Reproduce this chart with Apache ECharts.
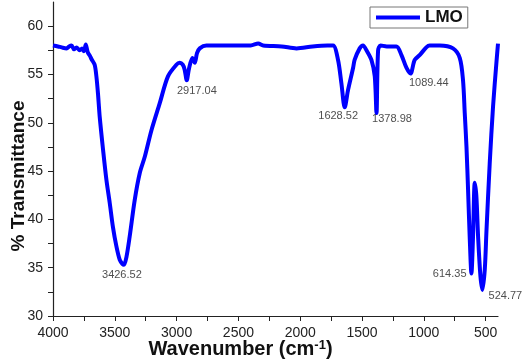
<!DOCTYPE html>
<html>
<head>
<meta charset="utf-8">
<script src="https://cdn.jsdelivr.net/npm/echarts@6/dist/echarts.min.js"></script>
<style>
  html, body { margin: 0; padding: 0; background: #fff; }
  #chart { width: 526px; height: 363px; }
</style>
</head>
<body>
<div id="chart"></div>
<script>
/* FTIR spectrum of LMO */
const wavenumbers = [
  4000, 3960, 3930, 3890, 3870, 3850, 3830, 3810, 3784, 3765, 3750, 3735, 3719, 3700,
  3689, 3663, 3649, 3636, 3622, 3595, 3568, 3541, 3515, 3487, 3460, 3439, 3426, 3406,
  3380, 3339, 3298, 3257, 3204, 3137, 3070, 3002, 2975, 2950, 2935, 2918, 2900, 2872,
  2853, 2835, 2813, 2759, 2600, 2400, 2340, 2300, 2150, 2030, 1900, 1780, 1734, 1694,
  1667, 1640, 1613, 1572, 1560, 1519, 1492, 1464, 1424, 1397, 1383, 1370, 1350, 1300,
  1222, 1181, 1141, 1108, 1074, 1034, 980, 953, 871, 764, 709, 683, 669, 655, 642, 629,
  615, 602, 588, 575, 561, 542, 526, 507, 493, 467, 440, 413, 400
];
const transmittance = [
  58.0, 57.9, 57.8, 57.7, 57.9, 58.0, 57.6, 57.8, 57.5, 57.7, 57.4, 58.1, 57.3, 56.9,
  56.6, 56.0, 54.8, 53.0, 50.6, 47.2, 44.1, 41.7, 39.2, 37.2, 35.8, 35.4, 35.3, 36.1,
  38.2, 42.0, 44.8, 46.5, 49.2, 52.0, 54.8, 56.0, 56.2, 56.0, 55.5, 54.4, 55.6, 56.7,
  56.2, 57.2, 57.7, 58.0, 58.0, 58.0, 58.2, 58.0, 57.9, 57.7, 57.9, 58.0, 58.0, 56.5,
  54.1, 51.6, 53.4, 55.7, 56.5, 57.7, 58.0, 57.5, 56.5, 54.8, 51.0, 57.5, 58.0, 57.9,
  57.9, 57.0, 55.7, 55.1, 56.5, 57.0, 57.8, 58.0, 58.0, 57.7, 56.7, 54.4, 51.0, 47.5, 43.0, 38.2,
  34.4, 38.2, 43.8, 42.4, 38.2, 34.1, 32.7, 34.8, 38.9, 45.8, 51.7, 56.2, 58.2
];
const peakWavenumbers = [3426.52, 2917.04, 1628.52, 1378.98, 1089.44, 614.35, 524.77];
const peakValues = [35.3, 54.4, 51.6, 51.0, 55.1, 34.4, 32.7];
const peakLabels = ['3426.52', '2917.04', '1628.52', '1378.98', '1089.44', '614.35', '524.77'];
const xTickValues = [4000, 3750, 3500, 3250, 3000, 2750, 2500, 2250, 2000, 1750, 1500, 1250, 1000, 750, 500];
const xLabelValues = [4000, 3500, 3000, 2500, 2000, 1500, 1000, 500];
const yTickValues = [30, 32.5, 35, 37.5, 40, 42.5, 45, 47.5, 50, 52.5, 55, 57.5, 60];
const yLabelValues = [30, 35, 40, 45, 50, 55, 60];

/* label placement for each peak: [position, offset] */
const peakLabelPlace = [
  ['bottom', [-2, 2]],
  ['bottom', [10, 2]],
  ['bottom', [-8, 0]],
  ['bottom', [15, -3]],
  ['bottom', [16, 1]],
  ['left', [-2, 0]],
  ['right', [3, 6]]
];

const FONT = '"Liberation Sans", Arial, sans-serif';
const spectrum = wavenumbers.map((w, i) => [w, transmittance[i]]);
const peaks = peakWavenumbers.map((w, i) => ({
  value: [w, peakValues[i]],
  name: peakLabels[i],
  label: { position: peakLabelPlace[i][0], offset: peakLabelPlace[i][1] }
}));

const chart = echarts.init(document.getElementById('chart'));
chart.setOption({
  animation: false,
  grid: { left: 53, right: 28, top: 2, bottom: 47, outerBoundsMode: 'none', containLabel: false },
  legend: {
    data: [{ name: 'LMO', icon: 'rect' }],
    left: 370,
    top: 7,
    padding: [2, 5, 2, 6],
    borderColor: '#777',
    borderWidth: 1,
    itemWidth: 44,
    itemHeight: 4,
    itemGap: 4,
    textStyle: { fontFamily: FONT, fontWeight: 'bold', fontSize: 17, color: '#111' }
  },
  xAxis: {
    type: 'value',
    inverse: true,
    min: 400,
    max: 4000,
    name: 'Wavenumber (cm{sup|-1})',
    nameLocation: 'middle',
    nameGap: 23,
    nameMoveOverlap: false,
    nameTextStyle: {
      fontFamily: FONT, fontWeight: 'bold', fontSize: 20, color: '#111', padding: [0, 70, 0, 0],
      rich: { sup: { fontFamily: FONT, fontWeight: 'bold', fontSize: 13, color: '#111', verticalAlign: 'top', padding: [0, 0, 8, 0] } }
    },
    axisLine: { lineStyle: { color: '#222', width: 1.2 } },
    axisTick: { customValues: xTickValues, length: 5, lineStyle: { color: '#222' } },
    axisLabel: { customValues: xLabelValues, formatter: v => String(v), fontFamily: FONT, fontSize: 14, color: '#222', margin: 10 },
    splitLine: { show: false }
  },
  yAxis: {
    type: 'value',
    min: 30,
    max: 62.5,
    name: '% Transmittance',
    nameLocation: 'middle',
    nameGap: 25,
    nameMoveOverlap: false,
    nameTextStyle: { fontFamily: FONT, fontWeight: 'bold', fontSize: 19, color: '#111', padding: [0, 34, 0, 0] },
    axisLine: { show: true, lineStyle: { color: '#222', width: 1.2 } },
    axisTick: { show: true, customValues: yTickValues, length: 5, lineStyle: { color: '#222' } },
    axisLabel: { customValues: yLabelValues, fontFamily: FONT, fontSize: 14, color: '#222', margin: 10 },
    splitLine: { show: false }
  },
  series: [
    {
      name: 'LMO',
      type: 'line',
      data: spectrum,
      symbol: 'none',
      smooth: 0.3,
      color: '#0000ff',
      lineStyle: { color: '#0000ff', width: 4 },
      z: 3
    },
    {
      name: 'peaks',
      type: 'scatter',
      data: peaks,
      symbolSize: 0,
      silent: true,
      label: {
        show: true,
        formatter: p => p.name,
        fontFamily: FONT,
        fontSize: 11,
        color: '#222',
        distance: 3
      },
      z: 4
    }
  ]
});
</script>
</body>
</html>
